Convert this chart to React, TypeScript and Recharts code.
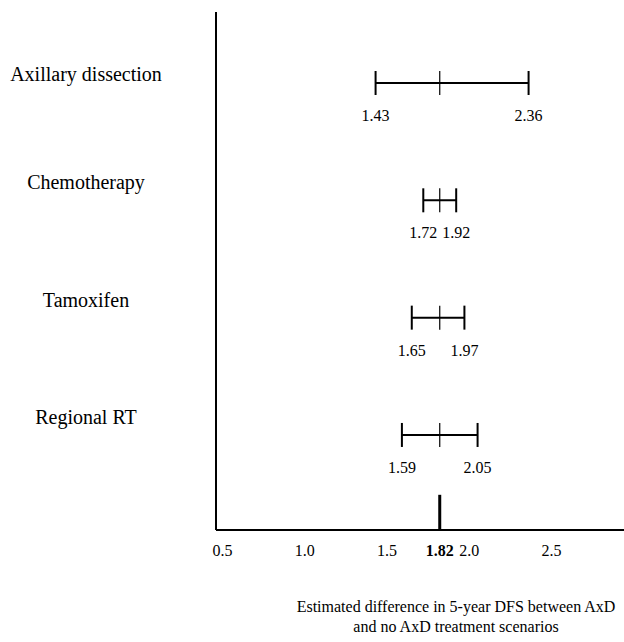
import {
  ScatterChart,
  Scatter,
  XAxis,
  YAxis,
  ErrorBar,
  ReferenceLine,
} from 'recharts'

const categories = ['Axillary dissection', 'Chemotherapy', 'Tamoxifen', 'Regional RT']
const lows = [1.43, 1.72, 1.65, 1.59]
const highs = [2.36, 1.92, 1.97, 2.05]
const baseCase = 1.82
const xTicks = [0.5, 1.0, 1.5, 1.82, 2.0, 2.5]
const rowTicks = [1, 2, 3, 4]

const font = '"Liberation Serif", "Times New Roman", serif'

const rows = categories.map((name, i) => ({
  name,
  row: i + 1,
  x: baseCase,
  err: [baseCase - lows[i], highs[i] - baseCase],
}))
const lowPts = rows.map((r, i) => ({ row: r.row, x: lows[i] }))
const highPts = rows.map((r, i) => ({ row: r.row, x: highs[i] }))

function CenterTick(props: any) {
  const { cx, cy } = props
  return <line x1={cx} x2={cx} y1={cy - 12} y2={cy + 12} stroke="#000" strokeWidth={1.2} />
}

function ValueLabel(props: any) {
  const { cx, cy, payload } = props
  return (
    <text x={cx} y={cy + 38} textAnchor="middle" style={{ fontFamily: font }} fontSize={16} fill="#000">
      {payload.x.toFixed(2)}
    </text>
  )
}

function XTick(props: any) {
  const { x, y, payload } = props
  const isBase = payload.value === baseCase
  return (
    <text
      x={x}
      y={y + 18}
      textAnchor="middle"
      style={{ fontFamily: font }}
      fontSize={16}
      fontWeight={isBase ? 'bold' : 'normal'}
      fill="#000"
    >
      {isBase ? payload.value.toFixed(2) : payload.value.toFixed(1)}
    </text>
  )
}

function YTick(props: any) {
  const { y, payload } = props
  const dy = payload.value === 1 ? -2 : -11
  return (
    <text x={86} y={y + dy} textAnchor="middle" style={{ fontFamily: font }} fontSize={20} fill="#000">
      {categories[payload.value - 1]}
    </text>
  )
}

export default function App() {
  return (
    <div style={{ position: 'absolute', left: 0, top: 0, width: 624, height: 642, background: '#fff' }}>
      <ScatterChart width={624} height={642} margin={{ top: 12, right: 0, bottom: 82, left: 0 }}>
        <XAxis
          type="number"
          dataKey="x"
          domain={[0.46, 2.94]}
          ticks={xTicks}
          tick={<XTick />}
          tickLine={false}
          axisLine={{ stroke: '#000', strokeWidth: 2 }}
          height={30}
          allowDataOverflow
        />
        <YAxis
          type="number"
          dataKey="row"
          domain={[0.395, 4.81]}
          reversed
          ticks={rowTicks}
          tick={<YTick />}
          tickLine={false}
          axisLine={{ stroke: '#000', strokeWidth: 2 }}
          width={216}
          allowDataOverflow
        />
        <ReferenceLine
          segment={[
            { x: baseCase, y: 4.51 },
            { x: baseCase, y: 4.81 },
          ]}
          stroke="#000"
          strokeWidth={3}
          ifOverflow="visible"
        />
        <Scatter data={rows} dataKey="x" shape={<CenterTick />} isAnimationActive={false}>
          <ErrorBar
            dataKey="err"
            direction="x"
            width={12}
            stroke="#000"
            strokeWidth={2}
            isAnimationActive={false}
          />
        </Scatter>
        <Scatter data={lowPts} shape={<ValueLabel />} isAnimationActive={false} />
        <Scatter data={highPts} shape={<ValueLabel />} isAnimationActive={false} />
      </ScatterChart>
      <div
        style={{
          position: 'absolute',
          left: 256,
          width: 400,
          top: 597,
          textAlign: 'center',
          fontFamily: font,
          fontSize: 16,
          lineHeight: '20px',
          color: '#000',
        }}
      >
        Estimated difference in 5-year DFS between AxD
        <br />
        and no AxD treatment scenarios
      </div>
    </div>
  )
}
